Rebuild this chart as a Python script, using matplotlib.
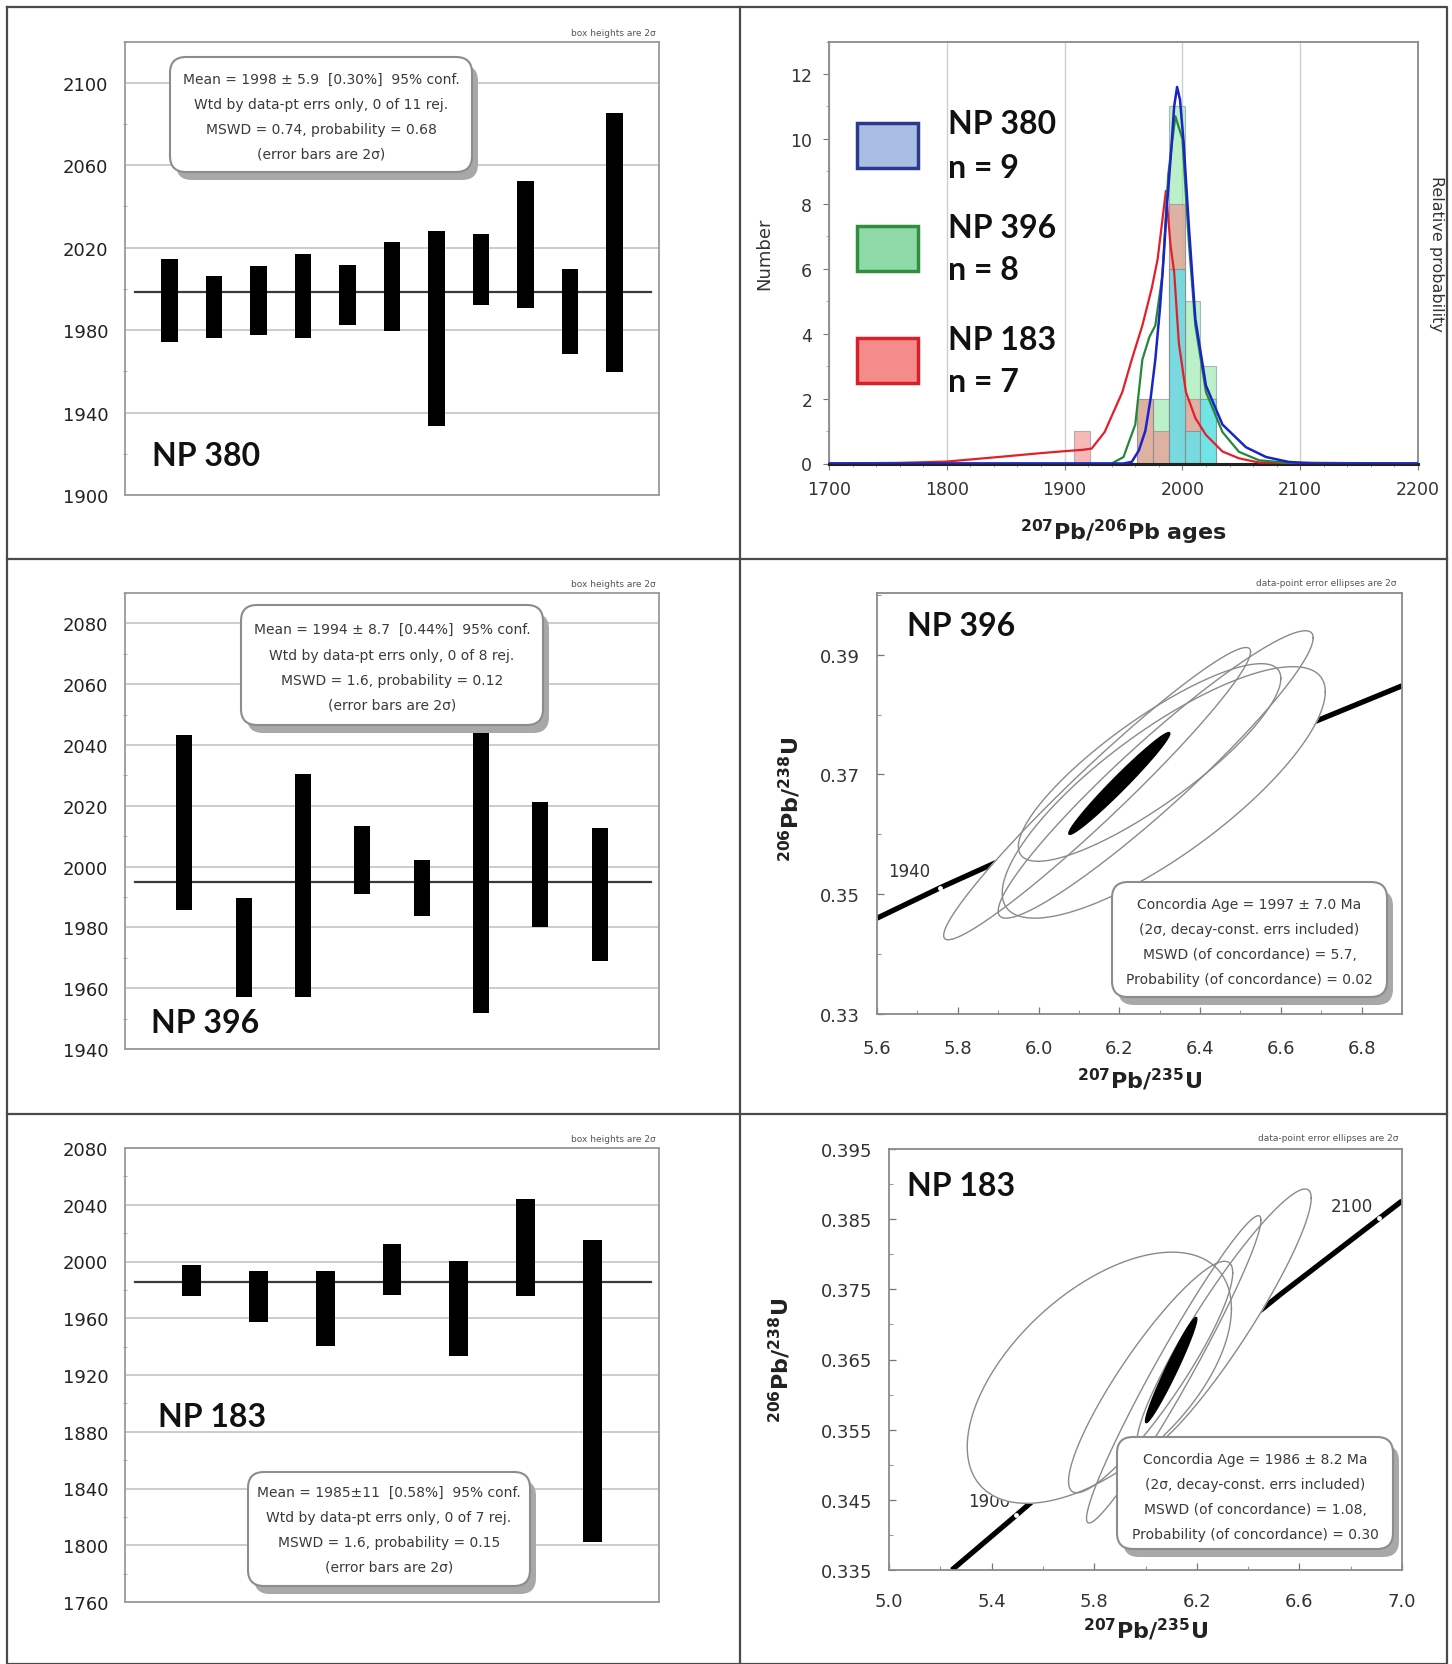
import numpy as np
import matplotlib
matplotlib.use('Agg')
import matplotlib.pyplot as plt
from matplotlib.patches import FancyBboxPatch, Rectangle, Polygon
from matplotlib.ticker import FixedLocator, MultipleLocator, FormatStrFormatter

W, H = 1452, 1665
plt.rcParams['font.family'] = ['DejaVu Sans']
plt.rcParams['mathtext.fontset'] = 'dejavusans'

# ---------------- data ----------------
# weighted-mean panels: bar tops / bottoms (Ma)
np380_top = [2014.3, 2006.2, 2011.2, 2016.9, 2011.7, 2022.6, 2028.2, 2026.4, 2052.3, 2009.8, 2085.1]
np380_bot = [1974.3, 1976.0, 1977.4, 1976.0, 1982.4, 1979.8, 1933.5, 1992.4, 1990.5, 1968.2, 1959.9]
np380_mean = 1998.4
np396_top = [2043.2, 1989.7, 2030.6, 2013.3, 2002.3, 2052.0, 2021.1, 2012.8]
np396_bot = [1985.6, 1957.1, 1957.1, 1991.0, 1983.9, 1952.0, 1980.2, 1969.1]
np396_mean = 1994.9
np183_top = [1997.7, 1993.3, 1993.3, 2012.5, 2000.2, 2044.2, 2015.5]
np183_bot = [1976.0, 1957.7, 1940.1, 1976.7, 1933.5, 1975.5, 1802.0]
np183_mean = 1985.4

np380_ticks = [1900, 1940, 1980, 2020, 2060, 2100]
np396_ticks = [1940, 1960, 1980, 2000, 2020, 2040, 2060, 2080]
np183_ticks = [1760, 1800, 1840, 1880, 1920, 1960, 2000, 2040, 2080]

box_380 = ["Mean = 1998 \u00b1 5.9  [0.30%]  95% conf.",
           "Wtd by data-pt errs only, 0 of 11 rej.",
           "MSWD = 0.74, probability = 0.68",
           "(error bars are 2\u03c3)"]
box_396 = ["Mean = 1994 \u00b1 8.7  [0.44%]  95% conf.",
           "Wtd by data-pt errs only, 0 of 8 rej.",
           "MSWD = 1.6, probability = 0.12",
           "(error bars are 2\u03c3)"]
box_183 = ["Mean = 1985\u00b111  [0.58%]  95% conf.",
           "Wtd by data-pt errs only, 0 of 7 rej.",
           "MSWD = 1.6, probability = 0.15",
           "(error bars are 2\u03c3)"]
conc_box_396 = ["Concordia Age = 1997 \u00b1 7.0 Ma",
                "(2\u03c3, decay-const. errs included)",
                "MSWD (of concordance) = 5.7,",
                "Probability (of concordance) = 0.02"]
conc_box_183 = ["Concordia Age = 1986 \u00b1 8.2 Ma",
                "(2\u03c3, decay-const. errs included)",
                "MSWD (of concordance) = 1.08,",
                "Probability (of concordance) = 0.30"]

# histogram
hist_edges = [1908.0, 1921.4, 1934.8, 1948.2, 1961.6, 1975.0, 1988.4, 2001.8, 2015.2, 2028.6]
hist_380 = [0, 0, 0, 0, 0, 0, 6, 1, 2]
hist_396 = [0, 0, 0, 0, 2, 2, 11, 5, 3]
hist_183 = [1, 0, 0, 0, 2, 1, 8, 2, 0]
hist_xticks = [1700, 1800, 1900, 2000, 2100, 2200]
hist_yticks = [0, 2, 4, 6, 8, 10, 12]

pdf183_x = [1700, 1760, 1800, 1850, 1880, 1900, 1915, 1923, 1934, 1949, 1957, 1966, 1974, 1979, 1983,
            1986, 1990, 1993, 1997, 2003, 2011, 2020, 2034, 2048, 2065, 2200]
pdf183_y = [0, 0.02, 0.06, 0.22, 0.32, 0.38, 0.42, 0.46, 0.97, 2.2, 3.2, 4.25, 5.4, 6.3, 7.5,
            8.4, 6.7, 5.9, 3.7, 2.2, 1.4, 0.88, 0.37, 0.16, 0.03, 0]
pdf396_x = [1700, 1940, 1950, 1960, 1966, 1972, 1977, 1983, 1988, 1994, 2000, 2005.5, 2011, 2020,
            2034, 2048, 2065, 2090, 2200]
pdf396_y = [0, 0, 0.2, 1.2, 3.2, 3.9, 4.25, 5.8, 8.9, 10.7, 10.0, 6.8, 4.25, 2.2, 0.97, 0.36, 0.1, 0.02, 0]
pdf380_x = [1700, 1950, 1957, 1963, 1968.5, 1973, 1977, 1981, 1984, 1987, 1990, 1993, 1995.5, 1998,
            2001, 2005.5, 2011, 2020, 2034, 2054, 2071, 2090, 2110, 2200]
pdf380_y = [0, 0, 0.05, 0.4, 1.0, 2.0, 3.2, 4.8, 6.3, 8.0, 9.4, 11.0, 11.6, 11.2, 9.9, 7.3, 4.45,
            2.4, 1.2, 0.5, 0.2, 0.05, 0, 0]

# concordia diagrams
conc396_x = [5.60, 5.757, 6.00, 6.30, 6.60, 6.90]
conc396_y = [0.3460, 0.3511, 0.3585, 0.3677, 0.3765, 0.3848]
age396_pts = [(5.757, 0.3511)]
age396_lbl = [("1940", 5.68, 0.3538)]
# ellipses: cx, sx, cy, sy, rho
ell396 = [(6.145, 0.38, 0.3668, 0.0244, 0.97),
          (6.29, 0.39, 0.3700, 0.0240, 0.95),
          (6.31, 0.40, 0.3670, 0.0210, 0.80),
          (6.275, 0.325, 0.3720, 0.0165, 0.85)]
mean396 = (6.20, 0.125, 0.3685, 0.0085, 0.98)

conc183_x = [5.245, 5.496, 5.825, 6.170, 6.530, 6.911, 7.0]
conc183_y = [0.3350, 0.3428, 0.3532, 0.3638, 0.3744, 0.3851, 0.3876]
age183_pts = [(5.496, 0.3428), (6.911, 0.3851)]
age183_lbl = [("1900", 5.39, 0.3448), ("2100", 6.805, 0.3869)]
ell183 = [(5.82, 0.515, 0.3624, 0.0179, 0.55),
          (6.02, 0.32, 0.3625, 0.0165, 0.90),
          (6.11, 0.34, 0.3636, 0.0219, 0.97),
          (6.306, 0.34, 0.3706, 0.0187, 0.93)]
mean183 = (6.10, 0.10, 0.3635, 0.0075, 0.97)

# ---------------- figure ----------------
fig = plt.figure(figsize=(W / 100, H / 100), dpi=100)
fig.patch.set_facecolor('white')


def add_ax(l, t, r, b):
    return fig.add_axes([l / W, 1 - b / H, (r - l) / W, (b - t) / H])


def wm_panel(rect, tops, bots, mean, ticks, wbar):
    ax = add_ax(*rect)
    tops = np.asarray(tops); bots = np.asarray(bots)
    x = np.arange(1, len(tops) + 1)
    ax.set_xlim(0, len(tops) + 1)
    step = ticks[1] - ticks[0]
    ax.set_ylim(ticks[0], rect_top_value(ticks, rect))
    ax.yaxis.set_major_locator(FixedLocator(ticks))
    ax.yaxis.set_minor_locator(MultipleLocator(step / 2))
    ax.set_xticks([])
    ax.grid(axis='y', which='major', color='#c4c4c4', lw=1.2)
    ax.set_axisbelow(True)
    ax.bar(x, tops - bots, bottom=bots, width=wbar, color='black', zorder=3)
    ax.axhline(mean, xmin=0.018, xmax=0.985, color='#3a3a3a', lw=1.6, zorder=2)
    for s in ax.spines.values():
        s.set_color('#9a9a9a'); s.set_linewidth(1.3)
    ax.tick_params(axis='y', which='major', length=0, pad=12, labelsize=13, labelcolor='#222222')
    ax.tick_params(axis='y', which='minor', length=3, width=0.8, color='#b0b0b0', direction='inout')
    return ax


def rect_top_value(ticks, rect):
    return None


# weighted mean panels
ax1 = wm_panel((125, 42.5, 659, 496), np380_top, np380_bot, np380_mean, np380_ticks, 0.37)
ax1.set_ylim(1900, 2120)
ax3 = wm_panel((125, 594, 659, 1050), np396_top, np396_bot, np396_mean, np396_ticks, 0.27)
ax3.set_ylim(1940, 2090)
ax5 = wm_panel((125, 1149, 659, 1603), np183_top, np183_bot, np183_mean, np183_ticks, 0.28)
ax5.set_ylim(1760, 2080)

# histogram panel
axh = add_ax(829, 42.5, 1418, 464.5)
axh.set_xlim(1700, 2200); axh.set_ylim(0, 13)
axh.set_xticks(hist_xticks); axh.set_yticks(hist_yticks)
axh.xaxis.set_minor_locator(MultipleLocator(20)); axh.yaxis.set_minor_locator(MultipleLocator(1))
axh.grid(axis='x', which='major', color='#cfcfcf', lw=1)
axh.set_axisbelow(True)
edges = np.array(hist_edges); widths = np.diff(edges)
for counts, fc, a in [(hist_396, '#8ee6a6', 0.6), (hist_183, '#f58a8a', 0.6), (hist_380, '#5fe3ee', 0.8)]:
    axh.bar(edges[:-1], counts, width=widths, align='edge', color=fc, alpha=a,
            edgecolor='#8a8a8a', lw=0.8, zorder=2)
axh.plot(pdf183_x, pdf183_y, color='#e3202a', lw=1.6, zorder=4)
axh.plot(pdf396_x, pdf396_y, color='#23883a', lw=1.6, zorder=4)
axh.plot(pdf380_x, pdf380_y, color='#1a24c8', lw=1.8, zorder=5)
for s in ['top', 'right', 'left']:
    axh.spines[s].set_color('#8a8a8a'); axh.spines[s].set_linewidth(1.3)
axh.spines['bottom'].set_color('#222222'); axh.spines['bottom'].set_linewidth(2.2)
axh.tick_params(which='major', length=4, color='#777777', labelsize=12.5, labelcolor='#333333', pad=8)
axh.tick_params(which='minor', length=2, color='#999999')
axh.set_ylabel('Number', fontsize=13, color='#333333', labelpad=12)
axh.text(1.018, 0.5, 'Relative probability', transform=axh.transAxes, rotation=-90,
         ha='left', va='center', fontsize=11.5, color='#333333')


def ellipse_xy(cx, sx, cy, sy, rho, n=240):
    t = np.linspace(0, 2 * np.pi, n)
    return cx + sx * np.cos(t), cy + sy * (rho * np.cos(t) + np.sqrt(1 - rho ** 2) * np.sin(t))


def conc_panel(rect, xlim, ylim, xmaj, xmin_step, ymaj, ymin_step, xfmt, yfmt,
               cx, cy, ells, mean_e, pts, lbls, xpad, ypad):
    ax = add_ax(*rect)
    ax.set_xlim(*xlim); ax.set_ylim(*ylim)
    ax.set_xticks(xmaj); ax.set_yticks(ymaj)
    ax.xaxis.set_minor_locator(MultipleLocator(xmin_step))
    ax.yaxis.set_minor_locator(MultipleLocator(ymin_step))
    ax.xaxis.set_major_formatter(FormatStrFormatter(xfmt))
    ax.yaxis.set_major_formatter(FormatStrFormatter(yfmt))
    ax.plot(cx, cy, color='black', lw=3.8, solid_capstyle='butt', zorder=2)
    for (px, py) in pts:
        ax.plot([px], [py], marker='o', ms=3.5, mew=0, color='white', zorder=2.5)
    for (t, lx, ly) in lbls:
        ax.text(lx, ly, t, ha='center', va='center', fontsize=12, color='#333333', zorder=2.6)
    for e in ells:
        ex, ey = ellipse_xy(*e)
        ax.fill(ex, ey, color='white', zorder=3)
    for e in ells:
        ex, ey = ellipse_xy(*e)
        ax.plot(ex, ey, color='#8a8a8a', lw=1.0, zorder=4)
    ex, ey = ellipse_xy(*mean_e)
    ax.fill(ex, ey, color='black', zorder=5)
    for s in ax.spines.values():
        s.set_color('#8a8a8a'); s.set_linewidth(1.3)
    ax.tick_params(which='major', direction='in', length=5, color='#777777', width=0.9,
                   labelsize=13, labelcolor='#333333')
    ax.tick_params(axis='x', which='major', pad=xpad)
    ax.tick_params(axis='y', which='major', pad=ypad)
    ax.tick_params(which='minor', direction='in', length=3, color='#999999', width=0.8)
    return ax


conc_panel((877, 594, 1402, 1015), (5.6, 6.9), (0.33, 0.4003),
           [5.6, 5.8, 6.0, 6.2, 6.4, 6.6, 6.8], 0.1, [0.33, 0.35, 0.37, 0.39], 0.01,
           '%.1f', '%.2f', conc396_x, conc396_y, ell396, mean396, age396_pts, age396_lbl, 18, 12)
conc_panel((889, 1150, 1402, 1571), (5.0, 7.0), (0.335, 0.395),
           [5.0, 5.4, 5.8, 6.2, 6.6, 7.0], 0.2,
           [0.335, 0.345, 0.355, 0.365, 0.375, 0.385, 0.395], 0.005,
           '%.1f', '%.3f', conc183_x, conc183_y, ell183, mean183, age183_pts, age183_lbl, 16, 12)

# ---------------- overlay (pixel coordinates) ----------------
ov = fig.add_axes([0, 0, 1, 1], zorder=10)
ov.set_xlim(0, W); ov.set_ylim(H, 0); ov.axis('off'); ov.patch.set_alpha(0)

# panel borders
bc = '#4a4a4a'
ov.plot([7, 1447, 1447, 7, 7], [7.5, 7.5, 1665, 1665, 7.5], color=bc, lw=1.6)
ov.plot([739.5, 739.5], [7.5, 1665], color=bc, lw=1.6)
ov.plot([7, 1447], [559.5, 559.5], color=bc, lw=1.6)
ov.plot([7, 1447], [1115, 1115], color=bc, lw=1.6)


def rbox(x0, y0, x1, y1, lines, cxt, ys):
    ov.add_patch(FancyBboxPatch((x0 + 6, y0 + 8), x1 - x0, y1 - y0,
                                boxstyle='round,pad=0,rounding_size=16',
                                fc='#a8a8a8', ec='none', zorder=1))
    ov.add_patch(FancyBboxPatch((x0, y0), x1 - x0, y1 - y0,
                                boxstyle='round,pad=0,rounding_size=16',
                                fc='white', ec='#8c8c8c', lw=1.5, zorder=2))
    for ln, y in zip(lines, ys):
        ov.text(cxt, y, ln, ha='center', va='center', fontsize=10, color='#3a3a3a', zorder=3)


rbox(170, 58, 472, 173, box_380, 321, [80, 105, 130, 155])
rbox(241, 606, 543, 726, box_396, 392, [630, 656, 681, 706])
rbox(248, 1473, 530, 1587, box_183, 389, [1493, 1518, 1543, 1568])
rbox(1112, 883, 1387, 998, conc_box_396, 1249.5, [905, 930, 955, 980])
rbox(1117, 1438, 1393, 1550, conc_box_183, 1255, [1460, 1485, 1510, 1535])

# small header notes
for (x, y, t) in [(656, 33, 'box heights are 2\u03c3'), (656, 585, 'box heights are 2\u03c3'),
                  (656, 1140, 'box heights are 2\u03c3'),
                  (1396, 584, 'data-point error ellipses are 2\u03c3'),
                  (1399, 1139, 'data-point error ellipses are 2\u03c3')]:
    ov.text(x, y, t, ha='right', va='center', fontsize=6.5, color='#555555')

# sample labels
nkw = dict(fontsize=23, fontweight='bold', family=['Lato', 'DejaVu Sans'], color='#111111',
           va='center', ha='left')
ov.text(152, 457, 'NP 380', **nkw)
ov.text(151, 1024, 'NP 396', **nkw)
ov.text(158, 1418, 'NP 183', **nkw)
ov.text(907, 627, 'NP 396', **nkw)
ov.text(907, 1187, 'NP 183', **nkw)

# histogram legend
leg = [('#a8bfe3', '#2b3990', 124, 'NP 380', 'n = 9'),
       ('#8fd9a9', '#2f8f3f', 227, 'NP 396', 'n = 8'),
       ('#f58c8c', '#d9202a', 339, 'NP 183', 'n = 7')]
for fc, ec, y0, t1, t2 in leg:
    ov.add_patch(Rectangle((857, y0), 61, 45, fc=fc, ec=ec, lw=2.5))
    ov.text(948, y0 + 1, t1, **nkw)
    ov.text(948, y0 + 44, t2, **nkw)

# axis labels
lkw = dict(fontsize=16, fontweight='bold', color='#222222', ha='center', va='center')
ov.text(1123.5, 532, r'$\mathbf{^{207}Pb/^{206}Pb\ ages}$', **lkw)
ov.text(1140, 1080, r'$\mathbf{^{207}Pb/^{235}U}$', **lkw)
ov.text(1146, 1630, r'$\mathbf{^{207}Pb/^{235}U}$', **lkw)
ov.text(790, 799, r'$\mathbf{^{206}Pb/^{238}U}$', rotation=90, **lkw)
ov.text(780, 1360, r'$\mathbf{^{206}Pb/^{238}U}$', rotation=90, **lkw)

fig.savefig('out.png', dpi=100, facecolor='white')
